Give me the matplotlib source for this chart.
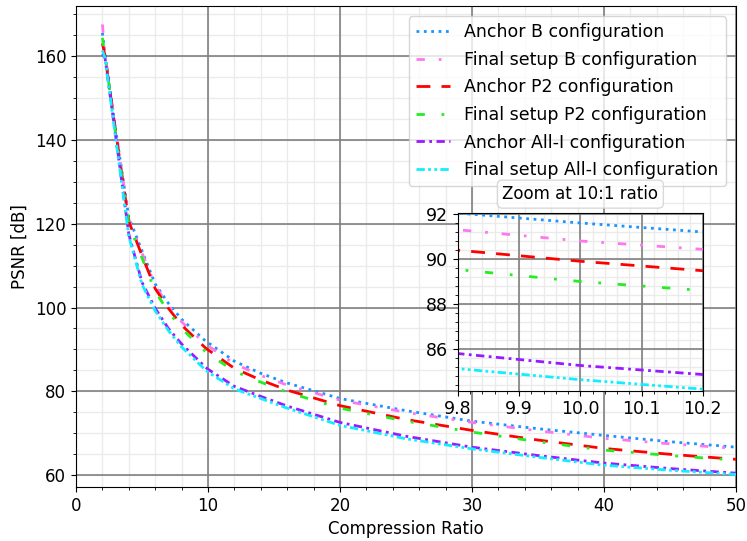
import matplotlib
matplotlib.use("Agg")
import matplotlib.pyplot as plt
from matplotlib.ticker import AutoMinorLocator, MultipleLocator

# ---- data ----
ratio = [2, 2.2, 3, 4, 5, 6, 7, 8, 9.8, 10, 10.2, 12, 14, 16, 20, 25, 30, 35, 40, 45, 50]

anchor_b     = [165.5, 160.5, 142.5, 121.5, 113.5, 105.6, 101.0, 97.2, 92.04, 91.6, 91.2, 87.2, 84.3, 82.0, 78.3, 75.4, 72.9, 71.1, 69.5, 68.0, 66.7]
final_b      = [167.5, 160.5, 142.5, 121.0, 113.0, 105.2, 100.5, 96.6, 91.3, 90.8, 90.43, 86.6, 83.8, 81.5, 77.9, 75.0, 72.6, 70.6, 68.8, 67.5, 66.4]
anchor_p2    = [163.0, 160.0, 142.0, 120.5, 112.4, 104.5, 99.8, 95.8, 90.39, 89.9, 89.48, 85.5, 82.7, 80.3, 76.6, 73.3, 70.7, 68.4, 66.4, 65.0, 63.8]
final_p2     = [164.3, 160.0, 141.5, 120.0, 111.8, 103.8, 99.0, 95.0, 89.53, 89.0, 88.6, 84.8, 82.2, 79.8, 76.0, 72.9, 70.3, 68.0, 66.0, 64.7, 63.6]
anchor_alli  = [160.5, 159.5, 141.0, 117.5, 106.0, 99.8, 95.0, 91.3, 85.8, 85.27, 84.87, 81.2, 78.8, 76.5, 72.6, 69.3, 66.7, 64.7, 62.9, 61.6, 60.5]
final_alli   = [161.3, 159.5, 140.5, 117.0, 105.5, 99.2, 94.5, 90.6, 85.13, 84.64, 84.22, 80.6, 78.3, 76.0, 71.9, 68.7, 66.3, 64.3, 62.4, 61.2, 60.2]

labels = ["Anchor B configuration", "Final setup B configuration",
          "Anchor P2 configuration", "Final setup P2 configuration",
          "Anchor All-I configuration", "Final setup All-I configuration"]
series = [anchor_b, final_b, anchor_p2, final_p2, anchor_alli, final_alli]
colors = ["#1a94ff", "#ff77ee", "#ff0000", "#22ee22", "#9a1aff", "#11eeff"]
styles = [(0, (1, 1.65)), (0, (3, 5, 1, 5)), (0, (5, 4)), (0, (3, 6, 1, 6)),
          (0, (3, 1.6, 1, 1.6)), (0, (3, 1.2, 1, 1.2, 1, 1.2))]

plt.rcParams["font.family"] = ["DejaVu Sans"]

fig = plt.figure(figsize=(7.47, 5.41), dpi=100)


def setup_axes(pos, xlim, ylim, xmaj, ymaj, xdiv, ydiv, z):
    """Background axes with the light minor grid, and a transparent axes
    on top with the darker major grid, ticks and data."""
    bg = fig.add_axes(pos, zorder=z)
    fg = fig.add_axes(pos, zorder=z + 0.5)
    for a in (bg, fg):
        a.set_xlim(*xlim)
        a.set_ylim(*ylim)
        a.xaxis.set_major_locator(MultipleLocator(xmaj))
        a.yaxis.set_major_locator(MultipleLocator(ymaj))
        a.xaxis.set_minor_locator(AutoMinorLocator(xdiv))
        a.yaxis.set_minor_locator(AutoMinorLocator(ydiv))
    bg.grid(which="minor", color="#ebebeb", linewidth=1.0, linestyle="-")
    bg.grid(which="major", color="#ebebeb", linewidth=1.0, linestyle="-")
    bg.tick_params(which="both", length=0, labelbottom=False, labelleft=False)
    for s in bg.spines.values():
        s.set_visible(False)
    fg.patch.set_alpha(0)
    fg.grid(which="major", color="#808080", linewidth=1.2, linestyle="-")
    return bg, fg


_, ax = setup_axes([76/747, 1-487/541, (736-76)/747, (487-6)/541],
                   (0, 50), (57.2, 171.9), 10, 20, 5, 4, 1)

for y, lab, c, ls in zip(series, labels, colors, styles):
    ax.plot(ratio, y, color=c, linestyle=ls, linewidth=2, label=lab)

ax.tick_params(labelsize=12)
ax.set_xlabel("Compression Ratio", fontsize=12)
ax.set_ylabel("PSNR [dB]", fontsize=12)
ax.legend(loc="upper right", fontsize=12.5, handlelength=2.0, labelspacing=0.55,
          framealpha=0.8, borderaxespad=0.6)

# inset
_, axi = setup_axes([458/747, 1-390.7/541, (702.7-458)/747, (390.7-213.3)/541],
                    (9.8, 10.2), (84.15, 92.03), 0.1, 2, 5, 5, 3)
for y, c, ls in zip(series, colors, styles):
    axi.plot(ratio, y, color=c, linestyle=ls, linewidth=2)
axi.tick_params(labelsize=12.5)
axi.set_xticks([9.8, 9.9, 10.0, 10.1, 10.2])
axi.set_xticklabels(["9.8", "9.9", "10.0", "10.1", "10.2"])
axi.set_xlim(9.8, 10.2)
axi.text(0.5, 1.108, "Zoom at 10:1 ratio", transform=axi.transAxes,
         ha="center", va="center", fontsize=12,
         bbox=dict(boxstyle="round,pad=0.3", fc="white", ec="#d0d0d0", alpha=0.8))

fig.savefig("out.png", dpi=100)
